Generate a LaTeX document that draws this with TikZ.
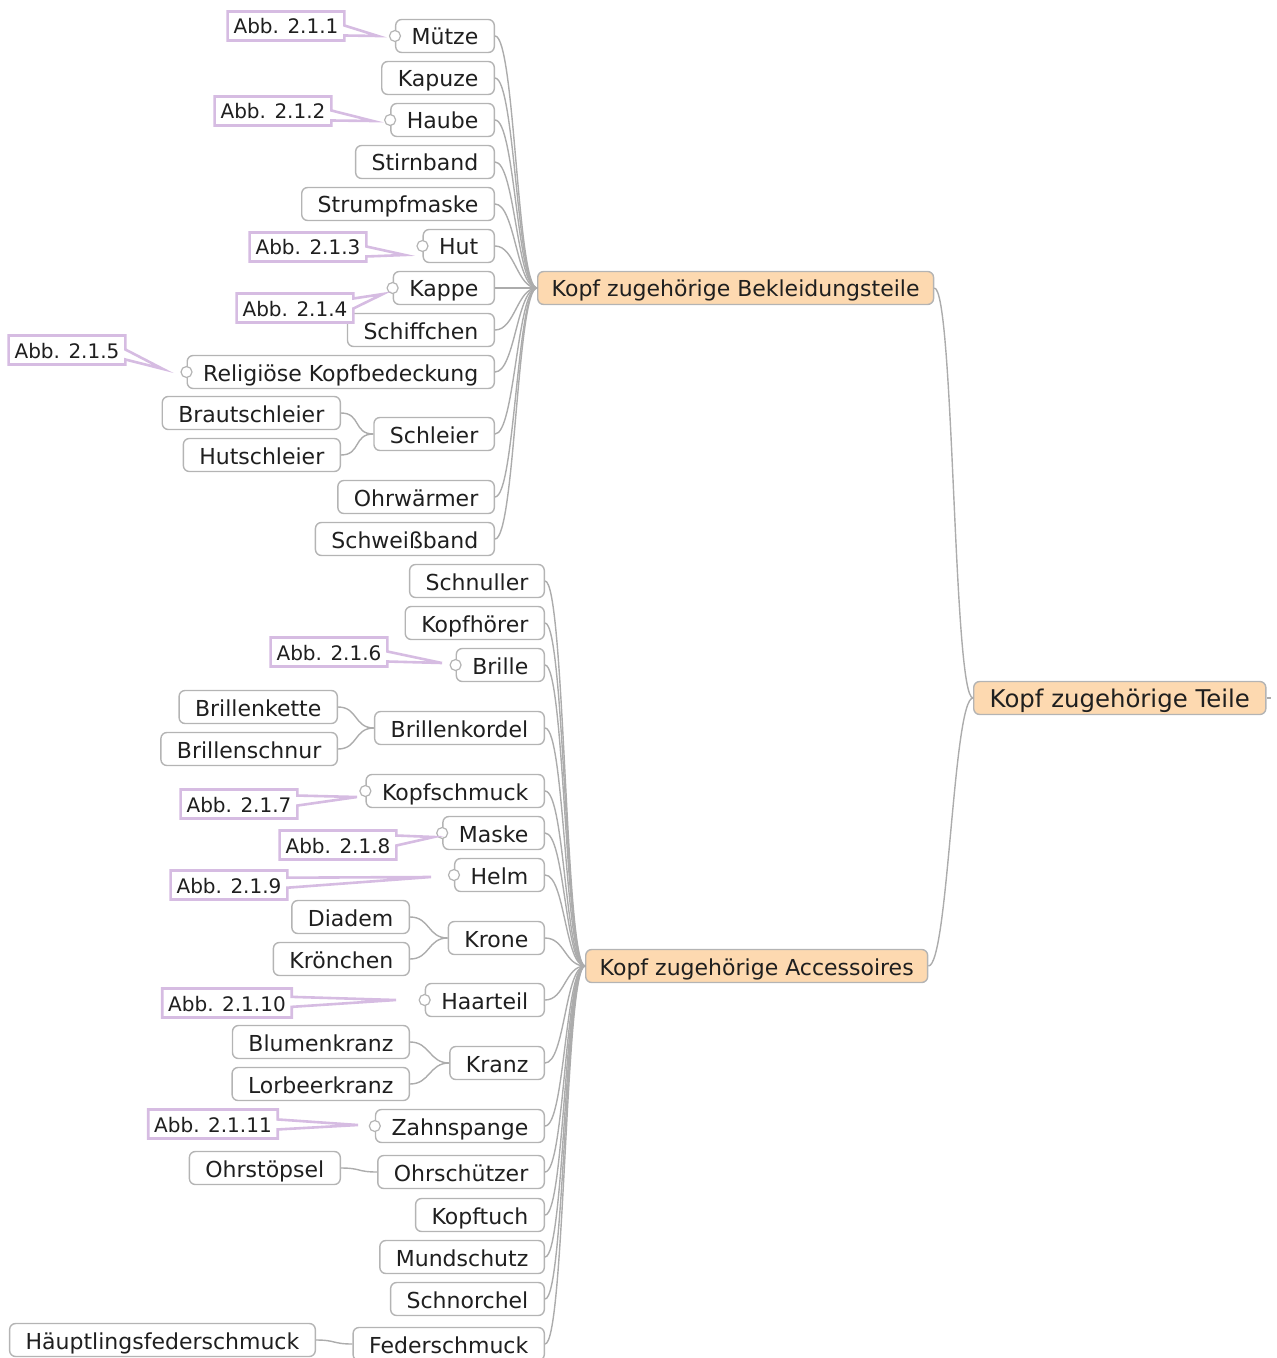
\documentclass[tikz,border=0pt]{standalone}
\usepackage{fontspec}
\setmainfont{DejaVu Sans}
\usetikzlibrary{shapes.callouts}
\definecolor{lineGray}{RGB}{172,172,172}
\definecolor{boxGray}{RGB}{180,180,180}
\definecolor{topicFill}{RGB}{253,217,176}
\definecolor{noteLilac}{RGB}{214,188,226}
\tikzset{
  leaf/.style={draw=boxGray, line width=0.7pt, fill=white, rounded corners=3pt,
    minimum height=16.5pt, inner xsep=8pt, inner ysep=0pt,
    text height=9pt, text depth=0pt,
    font=\fontsize{11}{13}\selectfont, text=black!88},
  topic/.style={leaf, fill=topicFill},
  note/.style={rectangle callout, draw=noteLilac, line width=1.3pt, fill=white,
    minimum height=14.5pt, inner xsep=3pt, inner ysep=0pt,
    text height=8pt, text depth=0pt,
    callout pointer width=5pt, font=\fontsize{10}{12}\selectfont, text=black!88},
  knob/.style={circle, draw=boxGray, fill=white, line width=0.6pt,
    minimum size=5.5pt, inner sep=0pt},
  link/.style={lineGray, line width=0.7pt,
    to path={.. controls +(20,0) and +(-20,0) .. (\tikztotarget)}},
}

\begin{document}
\begin{tikzpicture}[x=0.5pt, y=-0.5pt]
    \useasboundingbox (0,0) rectangle (1277,1358);
    % --- main topics ---
    \node[topic, anchor=west, font=\fontsize{12.2}{14}\selectfont, text height=9.8pt] (teile) at (973,698) {Kopf zugehörige Teile};
    \node[topic, anchor=west, inner xsep=7pt] (bekl) at (537,288) {Kopf zugehörige Bekleidungsteile};
    \node[topic, anchor=west, inner xsep=7pt] (acc) at (585,966) {Kopf zugehörige Accessoires};
    \coordinate (stub) at (1271,698);
    \draw[lineGray, line width=0.7pt] (teile.east) -- (stub);
    \draw[link] (bekl.east) to (teile.west);
    \draw[link] (acc.east) to (teile.west);
    % --- Bekleidungsteile ---
    \node[leaf, anchor=east] (muetze) at (495,36) {Mütze};
    \node[leaf, anchor=east] (kapuze) at (495,78) {Kapuze};
    \node[leaf, anchor=east] (haube) at (495,120) {Haube};
    \node[leaf, anchor=east] (stirnband) at (495,162) {Stirnband};
    \node[leaf, anchor=east] (strumpf) at (495,204) {Strumpfmaske};
    \node[leaf, anchor=east] (hut) at (495,246) {Hut};
    \node[leaf, anchor=east] (kappe) at (495,288) {Kappe};
    \node[leaf, anchor=east] (schiff) at (495,330) {Schiffchen};
    \node[leaf, anchor=east] (relig) at (495,372) {Religiöse Kopfbedeckung};
    \node[leaf, anchor=east] (schleier) at (495,434) {Schleier};
    \node[leaf, anchor=east] (braut) at (341,413) {Brautschleier};
    \node[leaf, anchor=east] (hutschl) at (341,455) {Hutschleier};
    \node[leaf, anchor=east] (ohrw) at (495,497) {Ohrwärmer};
    \node[leaf, anchor=east] (schweiss) at (495,539) {Schweißband};
    \draw[link] (muetze.east) to (bekl.west);
    \draw[link] (kapuze.east) to (bekl.west);
    \draw[link] (haube.east) to (bekl.west);
    \draw[link] (stirnband.east) to (bekl.west);
    \draw[link] (strumpf.east) to (bekl.west);
    \draw[link] (hut.east) to (bekl.west);
    \draw[link] (kappe.east) to (bekl.west);
    \draw[link] (schiff.east) to (bekl.west);
    \draw[link] (relig.east) to (bekl.west);
    \draw[link] (schleier.east) to (bekl.west);
    \draw[link] (ohrw.east) to (bekl.west);
    \draw[link] (schweiss.east) to (bekl.west);
    \draw[link] (braut.east) to (schleier.west);
    \draw[link] (hutschl.east) to (schleier.west);
    % --- Accessoires ---
    \node[leaf, anchor=east] (schnuller) at (545,581) {Schnuller};
    \node[leaf, anchor=east] (kopfh) at (545,623) {Kopfhörer};
    \node[leaf, anchor=east] (brille) at (545,665) {Brille};
    \node[leaf, anchor=east] (kordel) at (545,728) {Brillenkordel};
    \node[leaf, anchor=east] (kette) at (338,707) {Brillenkette};
    \node[leaf, anchor=east] (schnur) at (338,749) {Brillenschnur};
    \node[leaf, anchor=east] (kschmuck) at (545,791) {Kopfschmuck};
    \node[leaf, anchor=east] (maske) at (545,833) {Maske};
    \node[leaf, anchor=east] (helm) at (545,875) {Helm};
    \node[leaf, anchor=east] (krone) at (545,938) {Krone};
    \node[leaf, anchor=east] (diadem) at (410,917) {Diadem};
    \node[leaf, anchor=east] (kroenchen) at (410,959) {Krönchen};
    \node[leaf, anchor=east] (haarteil) at (545,1000) {Haarteil};
    \node[leaf, anchor=east] (kranz) at (545,1063) {Kranz};
    \node[leaf, anchor=east] (blumen) at (410,1042) {Blumenkranz};
    \node[leaf, anchor=east] (lorbeer) at (410,1084) {Lorbeerkranz};
    \node[leaf, anchor=east] (zahn) at (545,1126) {Zahnspange};
    \node[leaf, anchor=east] (ohrsch) at (545,1172) {Ohrschützer};
    \node[leaf, anchor=east] (ohrst) at (341,1168) {Ohrstöpsel};
    \node[leaf, anchor=east] (kopftuch) at (545,1215) {Kopftuch};
    \node[leaf, anchor=east] (mund) at (545,1257) {Mundschutz};
    \node[leaf, anchor=east] (schnorchel) at (545,1299) {Schnorchel};
    \node[leaf, anchor=east] (feder) at (545,1344) {Federschmuck};
    \node[leaf, anchor=east] (haeupt) at (316,1340) {Häuptlingsfederschmuck};
    \draw[link] (schnuller.east) to (acc.west);
    \draw[link] (kopfh.east) to (acc.west);
    \draw[link] (brille.east) to (acc.west);
    \draw[link] (kordel.east) to (acc.west);
    \draw[link] (kschmuck.east) to (acc.west);
    \draw[link] (maske.east) to (acc.west);
    \draw[link] (helm.east) to (acc.west);
    \draw[link] (krone.east) to (acc.west);
    \draw[link] (haarteil.east) to (acc.west);
    \draw[link] (kranz.east) to (acc.west);
    \draw[link] (zahn.east) to (acc.west);
    \draw[link] (ohrsch.east) to (acc.west);
    \draw[link] (kopftuch.east) to (acc.west);
    \draw[link] (mund.east) to (acc.west);
    \draw[link] (schnorchel.east) to (acc.west);
    \draw[link] (feder.east) to (acc.west);
    \draw[link] (kette.east) to (kordel.west);
    \draw[link] (schnur.east) to (kordel.west);
    \draw[link] (diadem.east) to (krone.west);
    \draw[link] (kroenchen.east) to (krone.west);
    \draw[link] (blumen.east) to (kranz.west);
    \draw[link] (lorbeer.east) to (kranz.west);
    \draw[link] (ohrst.east) to (ohrsch.west);
    \draw[link] (haeupt.east) to (feder.west);
    % --- note markers ---
    \node[knob] (muetze-k) at (muetze.west) {};
    \node[knob] (haube-k) at (haube.west) {};
    \node[knob] (hut-k) at (hut.west) {};
    \node[knob] (kappe-k) at (kappe.west) {};
    \node[knob] (relig-k) at (relig.west) {};
    \node[knob] (brille-k) at (brille.west) {};
    \node[knob] (kschmuck-k) at (kschmuck.west) {};
    \node[knob] (maske-k) at (maske.west) {};
    \node[knob] (helm-k) at (helm.west) {};
    \node[knob] (haarteil-k) at (haarteil.west) {};
    \node[knob] (zahn-k) at (zahn.west) {};
    % --- figure notes ---
    \node[note, callout absolute pointer={(378,36)}] (abb1) at (286,26) {Abb. 2.1.1};
    \node[note, callout absolute pointer={(373,121)}] (abb2) at (273,111) {Abb. 2.1.2};
    \node[note, callout absolute pointer={(405,255)}] (abb3) at (308,247) {Abb. 2.1.3};
    \node[note, callout absolute pointer={(383,294)}] (abb4) at (295,308) {Abb. 2.1.4};
    \node[note, callout absolute pointer={(163,369)}] (abb5) at (67,350) {Abb. 2.1.5};
    \node[note, callout absolute pointer={(442,663)}] (abb6) at (329,652) {Abb. 2.1.6};
    \node[note, callout absolute pointer={(357,797)}] (abb7) at (239,804) {Abb. 2.1.7};
    \node[note, callout absolute pointer={(434,837)}] (abb8) at (338,845) {Abb. 2.1.8};
    \node[note, callout absolute pointer={(431,877)}] (abb9) at (229,885) {Abb. 2.1.9};
    \node[note, callout absolute pointer={(396,1000)}] (abb10) at (227,1003) {Abb. 2.1.10};
    \node[note, callout absolute pointer={(358,1125)}] (abb11) at (213,1124) {Abb. 2.1.11};
  \end{tikzpicture}
\end{document}
